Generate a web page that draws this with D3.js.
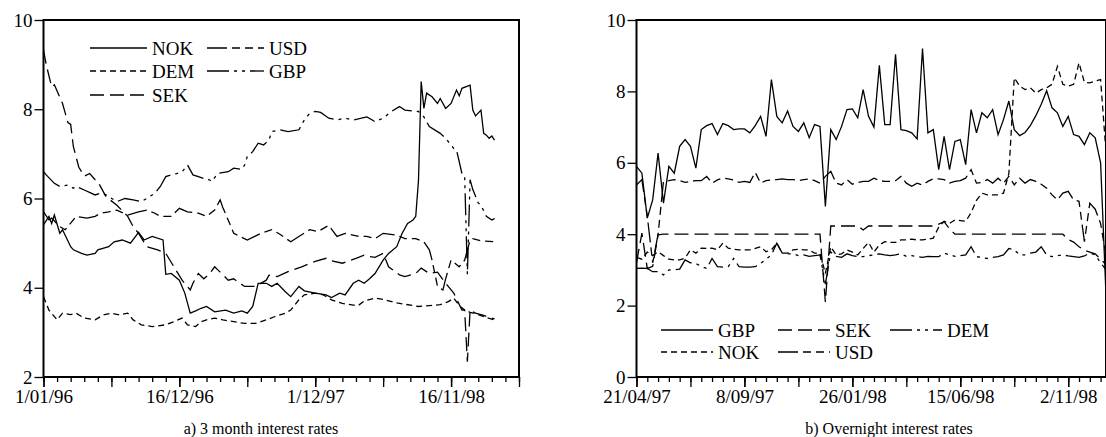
<!DOCTYPE html>
<html>
<head>
<meta charset="utf-8">
<script src="https://cdn.jsdelivr.net/npm/d3@7"></script>
<style>
  body { margin: 0; background: #fff; }
  svg { display: block; }
  text { font-family: "Liberation Serif", "Times New Roman", serif; fill: #000; }
</style>
</head>
<body>
<svg id="chart" width="1106" height="437"></svg>
<script>
// ---- panel a) 3 month rates, [week since 1/01/96, rate] ----
const nok3m = [[0,5.41],[2,5.6],[3,5.44],[4,5.63],[6,5.22],[7,5.3],[10,4.92],[11,4.85],[14,4.77],[16,4.73],[19,4.77],[20,4.85],[24,4.92],[26,5.03],[29,5.07],[32,5.0],[35,5.24],[37,5.07],[40,5.15],[44,5.07],[45,4.3],[47,4.32],[50,4.17],[52,3.88],[54,3.43],[56,3.48],[58,3.54],[60,3.58],[63,3.46],[67,3.5],[70,3.43],[73,3.48],[75,3.43],[77,3.58],[79,4.1],[82,4.1],[84,4.03],[86,4.1],[89,3.91],[91,3.8],[94,4.03],[96,3.93],[100,3.88],[104,3.84],[106,3.78],[109,3.88],[111,3.84],[114,4.1],[116,4.17],[118,4.1],[120,4.2],[122,4.32],[125,4.62],[127,4.77],[130,4.92],[132,5.22],[134,5.44],[136,5.52],[137,5.6],[138,6.4],[139,8.62],[140,8.02],[141,8.36],[143,8.28],[145,8.13],[146,8.24],[148,8.02],[150,8.13],[152,8.43],[153,8.3],[154,8.47],[157,8.54],[158,7.98],[159,7.85],[161,7.98],[162,7.46],[163,7.42],[164,7.35],[165,7.4],[166,7.31]];
const dem3m = [[0,3.8],[2,3.5],[5,3.28],[7,3.43],[10,3.4],[12,3.43],[15,3.32],[19,3.28],[22,3.39],[25,3.43],[28,3.39],[31,3.43],[33,3.28],[36,3.17],[40,3.13],[45,3.17],[48,3.24],[51,3.32],[53,3.17],[56,3.13],[58,3.24],[60,3.28],[63,3.32],[66,3.28],[70,3.24],[74,3.2],[78,3.2],[82,3.28],[85,3.35],[89,3.43],[91,3.5],[94,3.73],[96,3.84],[100,3.88],[103,3.84],[106,3.73],[110,3.65],[114,3.61],[116,3.61],[118,3.7],[122,3.77],[125,3.74],[130,3.66],[138,3.58],[146,3.62],[149,3.69],[151,3.77],[153,3.6],[155,3.5],[157,3.45],[160,3.4],[163,3.33],[166,3.28]];
const sek3m = [[0,9.33],[1,9.0],[3,8.5],[4,8.55],[7,8.13],[9,7.7],[10,7.66],[11,7.16],[13,6.7],[15,6.5],[17,6.56],[19,6.42],[20,6.38],[23,6.04],[27,5.85],[31,5.6],[33,5.37],[35,5.22],[38,4.92],[42,4.85],[45,4.77],[48,4.47],[51,4.17],[54,3.95],[55,4.1],[57,4.32],[59,4.2],[61,4.3],[63,4.47],[65,4.35],[68,4.17],[70,4.2],[74,4.03],[78,4.03],[82,4.17],[83,4.28],[86,4.25],[90,4.36],[95,4.47],[100,4.59],[104,4.66],[105,4.62],[110,4.55],[115,4.66],[118,4.73],[120,4.7],[122,4.68],[125,4.77],[127,4.47],[131,4.29],[133,4.25],[137,4.32],[139,4.44],[142,4.32],[145,4.35],[148,4.1],[151,3.88],[154,3.5],[155,3.5],[156,2.34],[157,3.5],[159,3.43],[162,3.38],[166,3.3]];
const usd3m = [[0,5.7],[2,5.52],[3,5.56],[6,5.37],[8,5.3],[10,5.45],[12,5.6],[16,5.56],[19,5.6],[21,5.67],[24,5.7],[27,5.74],[31,5.63],[35,5.7],[38,5.74],[41,5.67],[43,5.6],[47,5.6],[50,5.78],[53,5.7],[57,5.67],[60,5.6],[63,5.74],[65,5.97],[66,5.8],[69,5.37],[70,5.22],[75,5.07],[80,5.22],[84,5.3],[87,5.2],[91,5.03],[94,5.15],[98,5.3],[101,5.26],[105,5.4],[108,5.15],[111,5.22],[116,5.15],[119,5.15],[122,5.1],[125,5.22],[130,5.18],[133,5.1],[137,5.1],[140,5.03],[142,4.85],[143,4.62],[145,4.03],[147,3.95],[148,4.2],[150,4.62],[153,4.47],[155,4.62],[157,5.07],[158,5.1],[161,5.05],[166,5.03]];
const gbp3m = [[0,6.6],[1,6.53],[4,6.34],[6,6.27],[9,6.3],[11,6.23],[12,6.27],[15,6.19],[19,6.08],[21,6.12],[23,6.08],[27,5.93],[30,6.0],[33,5.97],[36,5.93],[38,6.0],[41,6.12],[43,6.27],[45,6.49],[47,6.53],[49,6.56],[51,6.6],[53,6.75],[55,6.53],[57,6.49],[59,6.45],[61,6.42],[62,6.38],[64,6.56],[68,6.6],[70,6.68],[73,6.65],[74,6.75],[75,6.94],[77,7.05],[79,7.24],[81,7.2],[83,7.31],[84,7.5],[87,7.54],[90,7.5],[94,7.54],[96,7.76],[98,7.91],[100,7.95],[102,7.93],[105,7.8],[108,7.76],[111,7.8],[114,7.76],[117,7.8],[119,7.83],[121,7.76],[122,7.72],[125,7.8],[128,7.95],[131,8.06],[133,7.98],[138,7.95],[140,7.83],[142,7.61],[146,7.46],[148,7.35],[151,7.12],[152,7.09],[154,6.56],[155,6.5],[156,4.3],[157,6.42],[158,6.2],[160,5.9],[161,5.85],[163,5.6],[165,5.52],[166,5.55]];
const leftTickWeeks = [0, 50, 100, 150];
const leftTickLabels = ['1/01/96', '16/12/96', '1/12/97', '16/11/98'];
const leftYTicks = [2, 4, 6, 8, 10];

// ---- panel b) overnight rates, one value per week from 21/04/97 ----
const gbpOn = [5.9,5.71,4.45,4.96,6.27,4.87,5.9,5.71,6.46,6.65, 6.46,5.85,6.93,7.04,7.1,6.79,7.1,7.04,6.93,6.95, 6.95,6.84,7.04,7.3,6.74,8.33,7.3,7.12,7.45,7.02, 6.88,7.12,6.7,7.07,7.02,4.78,6.93,6.65,7.02,7.49, 7.51,7.26,8.05,7.3,7.0,8.73,7.07,7.07,9.04,6.93, 6.9,6.84,6.67,9.2,6.84,6.93,5.81,6.74,5.81,6.6, 6.65,5.95,7.49,6.84,7.4,7.26,7.49,6.79,7.21,7.73, 6.93,6.76,6.85,7.05,7.32,7.64,8.02,7.54,7.4,7.02, 7.3,6.79,6.74,6.51,6.84,6.7,6.0,2.3];
const sekOn = [3.2,4.03,3.04,3.1,3.98,4.0,4.0,4.0,4.0,4.0, 4.0,4.0,4.0,4.0,4.0,4.0,4.0,4.0,4.0,4.0, 4.0,4.0,4.0,4.0,4.0,4.0,4.0,4.0,4.0,4.0, 4.0,4.0,4.0,4.0,4.0,2.1,4.23,4.23,4.23,4.23, 4.23,4.23,4.12,4.23,4.23,4.23,4.23,4.23,4.23,4.23, 4.23,4.23,4.23,4.23,4.23,4.23,4.28,4.35,4.15,4.0, 4.0,4.0,4.0,4.0,4.0,4.0,4.0,4.0,4.0,4.0, 4.0,4.0,4.0,4.0,4.0,4.0,4.0,4.0,4.0,4.0, 3.85,3.78,3.65,3.55,3.5,3.45,3.3,3.15];
const demOn = [3.04,3.05,3.04,2.95,2.95,2.86,3.0,3.0,3.02,3.28, 3.2,3.18,3.1,3.04,3.32,3.09,3.08,3.09,3.32,3.09, 3.08,3.08,3.09,3.18,3.3,3.42,3.75,3.47,3.45,3.45, 3.4,3.42,3.38,3.4,3.42,2.6,3.5,3.38,3.35,3.45, 3.4,3.37,3.37,3.4,3.42,3.45,3.42,3.4,3.42,3.45, 3.38,3.4,3.37,3.35,3.38,3.37,3.37,3.47,3.42,3.38, 3.4,3.42,3.65,3.37,3.35,3.32,3.35,3.37,3.42,3.6, 3.56,3.42,3.42,3.47,3.5,3.65,3.42,3.37,3.4,3.42, 3.39,3.37,3.35,3.39,3.47,3.42,3.2,3.0];
const nokOn = [3.35,3.3,3.5,3.4,3.51,3.4,3.3,3.28,3.28,3.33, 3.56,3.47,3.61,3.6,3.61,3.56,3.75,3.61,3.58,3.56, 3.56,3.56,3.6,3.65,3.51,3.56,3.75,3.47,3.47,3.56, 3.58,3.56,3.56,3.47,3.47,2.9,3.65,3.42,3.45,3.56, 3.5,3.42,3.6,3.77,3.5,3.7,3.79,3.77,3.77,3.84, 3.84,3.86,3.84,3.84,3.86,3.89,4.2,4.36,4.3,4.4, 4.38,4.36,4.6,4.95,5.15,5.1,5.1,5.1,5.15,5.7, 8.38,8.15,8.05,8.1,7.95,8.05,8.1,8.2,8.7,8.2, 8.15,8.2,8.8,8.25,8.24,8.29,8.33,6.3];
const usdOn = [5.38,5.53,4.5,3.2,4.0,5.48,5.5,5.53,5.5,5.45, 5.48,5.5,5.5,5.62,5.43,5.52,5.57,5.55,5.52,5.45, 5.48,5.45,5.73,5.43,5.5,5.52,5.53,5.55,5.53,5.53, 5.5,5.53,5.55,5.5,5.43,5.62,5.76,5.43,5.38,5.53, 5.4,5.45,5.48,5.48,5.57,5.5,5.48,5.48,5.5,5.62, 5.43,5.34,5.43,5.38,5.48,5.55,5.55,5.53,5.43,5.48, 5.5,5.57,5.81,5.43,5.45,5.53,5.43,5.57,5.43,5.62, 5.38,5.57,5.43,5.53,5.48,5.4,5.29,5.1,4.96,5.15, 5.2,4.96,4.92,3.79,4.87,4.7,4.3,3.4];
const rightTickWeeks = [0, 20, 40, 60, 80];
const rightTickLabels = ['21/04/97', '8/09/97', '26/01/98', '15/06/98', '2/11/98'];
const rightYTicks = [0, 2, 4, 6, 8, 10];

// line styles
const SOLID = null;
const SHORT = '6,4';
const LONG = '14,6';
const LONG_SHORT = '20,5,8,5,8,5';
const LONG_DOT = '22,5,3,5,3,5';

const svg = d3.select('#chart');
const plotTop = 20, plotBottom = 377;

const drawPanel = (p) => {
  const x = d3.scaleLinear().domain(p.xDomain).range(p.xRange);
  const y = d3.scaleLinear().domain(p.yDomain).range([plotBottom, plotTop]);
  const g = svg.append('g');

  g.append('clipPath').attr('id', p.id)
    .append('rect')
    .attr('x', p.xRange[0]).attr('y', plotTop)
    .attr('width', p.xRange[1] - p.xRange[0]).attr('height', plotBottom - plotTop);

  const line = d3.line().x(d => x(d[0])).y(d => y(d[1]));
  p.series.forEach(s => {
    g.append('path')
      .datum(s.data)
      .attr('d', line)
      .attr('fill', 'none')
      .attr('stroke', '#000')
      .attr('stroke-width', 1.3)
      .attr('stroke-dasharray', s.dash)
      .attr('clip-path', `url(#${p.id})`);
  });

  // frame
  g.append('rect')
    .attr('x', p.xRange[0]).attr('y', plotTop)
    .attr('width', p.xRange[1] - p.xRange[0]).attr('height', plotBottom - plotTop)
    .attr('fill', 'none').attr('stroke', '#000').attr('stroke-width', 2);

  // y axis
  const yAxis = g.append('g')
    .attr('transform', `translate(${p.xRange[0]},0)`)
    .call(d3.axisLeft(y).tickValues(p.yTicks).tickSize(9).tickPadding(2).tickFormat(d3.format('d')));
  yAxis.select('.domain').remove();
  yAxis.selectAll('line').attr('stroke-width', 1.3);
  yAxis.selectAll('text').style('font-size', '19px');

  // x axis: minor, major, labelled
  const minorAxis = g.append('g')
    .attr('transform', `translate(0,${plotBottom})`)
    .call(d3.axisBottom(x).tickValues(d3.range(0, p.xDomain[1] + 0.01, p.minor)).tickSize(5).tickFormat(''));
  const majorAxis = g.append('g')
    .attr('transform', `translate(0,${plotBottom})`)
    .call(d3.axisBottom(x).tickValues(d3.range(0, p.xDomain[1] + 0.01, p.major)).tickSize(10).tickFormat(''));
  const labelAxis = g.append('g')
    .attr('transform', `translate(0,${plotBottom})`)
    .call(d3.axisBottom(x).tickValues(p.tickWeeks).tickSize(10).tickPadding(3)
      .tickFormat((d, i) => p.tickLabels[i]));
  [minorAxis, majorAxis, labelAxis].forEach(a => {
    a.select('.domain').remove();
    a.selectAll('line').attr('stroke-width', 1.3);
  });
  labelAxis.selectAll('text').style('font-size', '19px');
  g.selectAll('g[font-family]').attr('font-family', null).attr('font-size', null);

  // legend
  const lg = g.append('g');
  p.legend.forEach(e => {
    lg.append('line')
      .attr('x1', e.x).attr('x2', e.x + p.legendLen)
      .attr('y1', e.y).attr('y2', e.y)
      .attr('stroke', '#000').attr('stroke-width', 1.3)
      .attr('stroke-dasharray', e.dash);
    lg.append('text')
      .attr('x', e.x + p.legendLen + 5).attr('y', e.y)
      .attr('dy', '0.35em')
      .style('font-size', '19px')
      .text(e.name);
  });

  // caption
  g.append('text')
    .attr('x', p.captionX).attr('y', 434)
    .attr('text-anchor', 'middle')
    .style('font-size', '16px')
    .text(p.caption);
};

drawPanel({
  id: 'clipA',
  xDomain: [0, 175], xRange: [43.5, 519],
  yDomain: [2, 10], yTicks: leftYTicks,
  minor: 5, major: 25,
  tickWeeks: leftTickWeeks, tickLabels: leftTickLabels,
  series: [
    { data: nok3m, dash: SOLID },
    { data: dem3m, dash: SHORT },
    { data: sek3m, dash: LONG },
    { data: usd3m, dash: LONG_SHORT },
    { data: gbp3m, dash: LONG_DOT },
  ],
  legendLen: 57,
  legend: [
    { name: 'NOK', dash: SOLID, x: 90, y: 48 },
    { name: 'DEM', dash: SHORT, x: 90, y: 71 },
    { name: 'SEK', dash: LONG, x: 90, y: 95 },
    { name: 'USD', dash: LONG_SHORT, x: 207, y: 48 },
    { name: 'GBP', dash: LONG_DOT, x: 207, y: 71 },
  ],
  caption: 'a) 3 month interest rates', captionX: 261,
});

const toPairs = arr => arr.map((v, i) => [i, v]);

drawPanel({
  id: 'clipB',
  xDomain: [0, 87], xRange: [636.5, 1106],
  yDomain: [0, 10], yTicks: rightYTicks,
  minor: 2, major: 10,
  tickWeeks: rightTickWeeks, tickLabels: rightTickLabels,
  series: [
    { data: toPairs(gbpOn), dash: SOLID },
    { data: toPairs(sekOn), dash: LONG },
    { data: toPairs(demOn), dash: LONG_DOT },
    { data: toPairs(nokOn), dash: SHORT },
    { data: toPairs(usdOn), dash: LONG_SHORT },
  ],
  legendLen: 52,
  legend: [
    { name: 'GBP', dash: SOLID, x: 661, y: 330 },
    { name: 'NOK', dash: SHORT, x: 661, y: 352 },
    { name: 'SEK', dash: LONG, x: 778, y: 330 },
    { name: 'USD', dash: LONG_SHORT, x: 778, y: 352 },
    { name: 'DEM', dash: LONG_DOT, x: 890, y: 330 },
  ],
  caption: 'b) Overnight interest rates', captionX: 889,
});
</script>
</body>
</html>
